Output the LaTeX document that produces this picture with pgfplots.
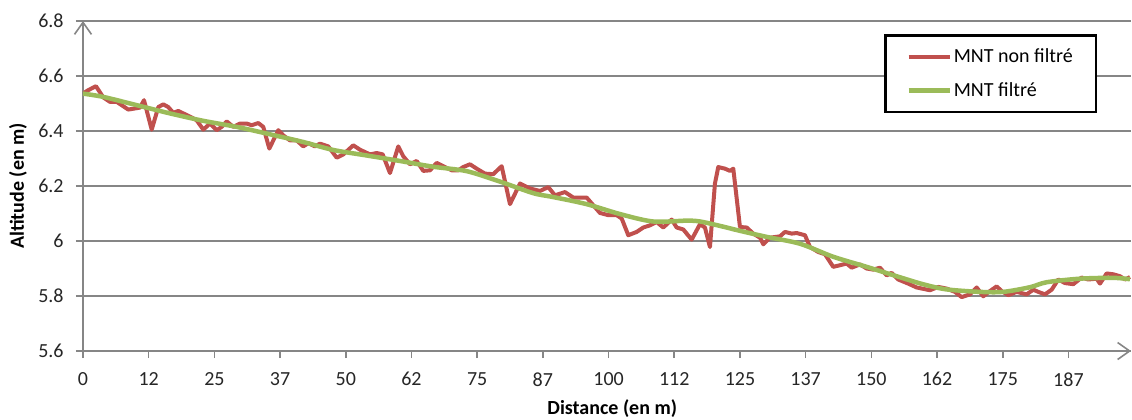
\documentclass[border=0pt]{standalone}
\usepackage{pgfplots}
\pgfplotsset{compat=1.18}
\usepackage{fontspec}
\setmainfont{Carlito}
\usetikzlibrary{arrows.meta}
\definecolor{mntred}{RGB}{192,80,77}
\definecolor{mntgreen}{RGB}{155,187,89}
\definecolor{axgray}{RGB}{134,134,134}
\begin{document}
\begin{tikzpicture}
\begin{axis}[
  scale only axis,
  width=524pt, height=165pt,
  xmin=0, xmax=199.4, ymin=5.6, ymax=6.8,
  axis lines=left,
  x axis line style={axgray, line width=0.9pt, -{Straight Barb[length=6pt,width=8.5pt,line width=0.8pt]}},
  y axis line style={axgray, line width=0.9pt, -{Straight Barb[length=6pt,width=8.5pt,line width=0.8pt]}},
  tick style={axgray, line width=0.8pt},
  tick align=outside,
  major tick length=3.5pt,
  xtick={0,12.5,25,37.5,50,62.5,75,87.5,100,112.5,125,137.5,150,162.5,175,187.5},
  xticklabels={0,12,25,37,50,62,75,87,100,112,125,137,150,162,175,187},
  ytick={5.6,5.8,6,6.2,6.4,6.6,6.8},
  yticklabels={5.6,5.8,6,6.2,6.4,6.6,6.8},
  ymajorgrids,
  grid style={axgray, line width=0.7pt},
  ticklabel style={font=\fontsize{10}{12}\selectfont, text=black!85},
  /pgf/number format/assume math mode=true,
  xticklabel style={anchor=north, inner sep=0pt, yshift=-7pt},
  yticklabel style={anchor=east, inner sep=0pt, xshift=-6pt},
  every axis x label/.style={at={(axis description cs:0.505,-0.173)}, anchor=center},
  every axis y label/.style={at={(axis description cs:-0.062,0.5)}, rotate=90, anchor=center},
  label style={font=\bfseries\fontsize{10}{12}\selectfont},
  xlabel={Distance (en m)},
  ylabel={Altitude (en m)},
  legend style={at={(rel axis cs:0.9676,0.9606)}, anchor=north east, draw=black, line width=1.25pt, fill=white,
    font=\fontsize{10}{12}\selectfont, inner xsep=10.5pt, inner ysep=5.5pt, row sep=6.5pt,
    nodes={inner sep=1pt}},
  legend cell align=left,
  legend image code/.code={\draw[#1] (0pt,0pt) -- (20.5pt,0pt);},
]
\coordinate (sw) at (rel axis cs:0,0);
\addplot[mntred, line width=2pt, line join=round] coordinates {
(0,6.536) (0.95,6.548) (2.47,6.563) (3.86,6.522) (5.14,6.506) (6.41,6.506) (7.36,6.494)
(8.62,6.478) (9.89,6.482) (10.84,6.485) (11.61,6.512) (13.07,6.405) (14.33,6.487) (15.28,6.497)
(16.23,6.487) (17.18,6.466) (18.13,6.473) (19.41,6.461) (20.68,6.449) (21.63,6.439) (22.89,6.405)
(24.16,6.427) (25.44,6.403) (26.39,6.415) (27.34,6.435) (28.60,6.415) (29.87,6.427) (31.15,6.427)
(32.10,6.421) (33.35,6.429) (34.30,6.415) (35.45,6.336) (36.21,6.366) (37.16,6.403) (38.11,6.384)
(39.38,6.366) (40.66,6.366) (41.91,6.344) (42.87,6.356) (44.14,6.344) (45.09,6.354) (46.67,6.344)
(48.27,6.303) (49.53,6.315) (51.43,6.348) (52.70,6.332) (54.61,6.315) (55.88,6.320) (57.02,6.315)
(58.41,6.247) (59.99,6.344) (60.94,6.308) (62.21,6.279) (63.49,6.291) (64.75,6.255) (66.02,6.257)
(67.30,6.284) (68.55,6.272) (70.15,6.257) (71.41,6.257) (72.36,6.269) (73.63,6.279) (74.91,6.263)
(76.49,6.245) (78.06,6.243) (79.66,6.272) (81.24,6.134) (83.14,6.209) (85.05,6.191) (86.95,6.182)
(88.53,6.196) (89.80,6.166) (91.70,6.178) (93.28,6.158) (94.88,6.158) (95.83,6.158) (97.09,6.130)
(98.36,6.102) (99.94,6.094) (101.54,6.094) (102.49,6.082) (103.75,6.021) (105.35,6.033) (106.60,6.049)
(107.88,6.057) (109.15,6.069) (110.41,6.049) (112.01,6.078) (112.96,6.049) (114.21,6.042) (115.81,6.005)
(117.39,6.061) (118.34,6.049) (119.29,5.978) (120.24,6.209) (120.87,6.269) (122.15,6.263) (123.10,6.255)
(123.73,6.263) (125.00,6.051) (126.28,6.049) (127.53,6.027) (128.81,6.012) (129.44,5.988) (130.71,6.012)
(132.61,6.017) (133.56,6.033) (134.84,6.027) (135.79,6.029) (137.37,6.021) (138.32,5.978) (139.90,5.960)
(141.17,5.952) (142.75,5.906) (144.03,5.912) (145.30,5.918) (146.25,5.903) (147.83,5.915) (149.11,5.900)
(150.36,5.896) (151.64,5.903) (152.91,5.875) (153.86,5.884) (155.12,5.860) (157.02,5.845) (158.62,5.831)
(161.15,5.821) (162.73,5.833) (164.33,5.827) (165.90,5.815) (167.18,5.796) (168.76,5.806) (170.04,5.831)
(171.29,5.799) (172.57,5.818) (173.84,5.835) (174.79,5.818) (176.05,5.803) (177.65,5.815) (179.55,5.806)
(180.81,5.823) (181.76,5.815) (183.03,5.806) (184.31,5.823) (185.56,5.860) (186.84,5.847) (188.42,5.843)
(190.01,5.867) (191.27,5.860) (192.87,5.863) (193.50,5.845) (194.77,5.882) (196.03,5.879) (197.30,5.872)
(198.25,5.860) (199.20,5.869)
};
\addlegendentry{MNT non filtré}
\addplot[mntgreen, line width=2.25pt, smooth, line join=round] coordinates {
(0,6.536) (3.86,6.524) (10.22,6.494) (16.55,6.464) (22.89,6.437) (29.24,6.415) (35.58,6.388)
(41.91,6.360) (47.62,6.331) (53.98,6.311) (60.31,6.291) (66.65,6.270) (73.00,6.254) (79.34,6.216)
(85.67,6.174) (89.42,6.160) (95.83,6.134) (102.17,6.098) (108.45,6.071) (114.86,6.074) (117.39,6.071)
(121.19,6.055) (125.00,6.037) (130.08,6.015) (136.43,5.990) (142.70,5.943) (149.11,5.906) (155.46,5.868)
(160,5.842) (164.33,5.824) (170.66,5.815) (175.10,5.815) (180.18,5.832) (183.35,5.850) (189.69,5.863)
(196.03,5.866) (199.20,5.861)
};
\addlegendentry{MNT filtré}
\end{axis}
\pgfresetboundingbox
\path (sw) ++(-41.5pt,-34pt) rectangle ++(566pt,209.5pt);
\end{tikzpicture}
\end{document}
